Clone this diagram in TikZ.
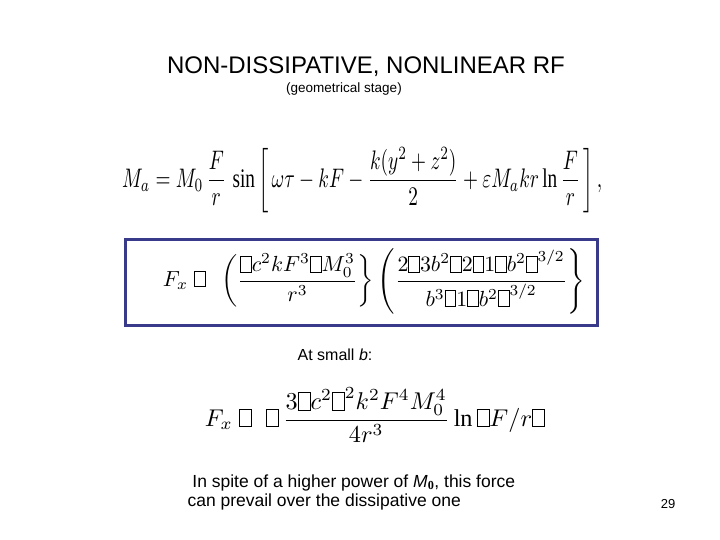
\documentclass[tikz,border=0pt]{standalone}
\usepackage{fontspec}
\setmainfont{Liberation Serif}
\setsansfont{Liberation Sans}
\usepackage{graphicx}
\newcommand\mbx{\mbox{\setlength\fboxsep{0pt}\setlength\fboxrule{0.4pt}\fbox{\rule{0pt}{1.5ex}\hspace{0.45em}}}}
\definecolor{navy}{HTML}{3A3A8A}
\tikzset{sf/.style={font=\sffamily},eq/.style={inner sep=0pt}}
\begin{document}
\begin{tikzpicture}[x=1pt,y=-1pt]
\useasboundingbox (0,0) rectangle (720,540);
\node[sf,font=\sffamily\fontsize{24}{28}\selectfont] (title) at (366,67) {NON-DISSIPATIVE, NONLINEAR RF};
\node[sf,font=\sffamily\fontsize{13.5}{15}\selectfont] (sub) at (344,89) {(geometrical stage)};
\node[eq,anchor=west] (e1) at (122,180) {\resizebox{480pt}{40pt}{$\displaystyle M_a = M_0\,\frac{F}{r}\,\sin\left[\,\omega\tau - kF - \frac{k(y^2+z^2)}{2} + \varepsilon M_a kr\ln\frac{F}{r}\,\right]{,}$}};
\draw[navy,line width=3pt] (125,239) rectangle (597,325);
\node[eq] (e2) at (374,281) {\resizebox{422pt}{!}{$\displaystyle F_x\;\mbx\;\;\left(\frac{\mbx c^2kF^3\mbx M_0^3}{r^3}\right\}\left(\frac{2\mbx 3b^2\mbx 2\mbx 1\mbx b^2\mbx^{3/2}}{b^3\mbx 1\mbx b^2\mbx^{3/2}}\right\}$}};
\node[sf,font=\sffamily\fontsize{16}{18}\selectfont] (at) at (335,355) {At small \textit{b}:};
\node[eq] (e3) at (375,415) {\resizebox{340pt}{!}{$\displaystyle F_x\;\mbx\;\;\mbx\,\frac{3\mbx c^2\mbx^2k^2F^4M_0^4}{4r^3}\ln\mbx F/r\mbx$}};
\node[sf,font=\sffamily\fontsize{17.5}{19}\selectfont,align=left,anchor=north west] (txt) at (184,471) {\ In spite of a higher power of \textit{M}$_{\mathbf 0}$, this force\\can prevail over the dissipative one};
\node[sf,font=\sffamily\fontsize{13}{15}\selectfont] (pg) at (668,504) {29};
\end{tikzpicture}
\end{document}
